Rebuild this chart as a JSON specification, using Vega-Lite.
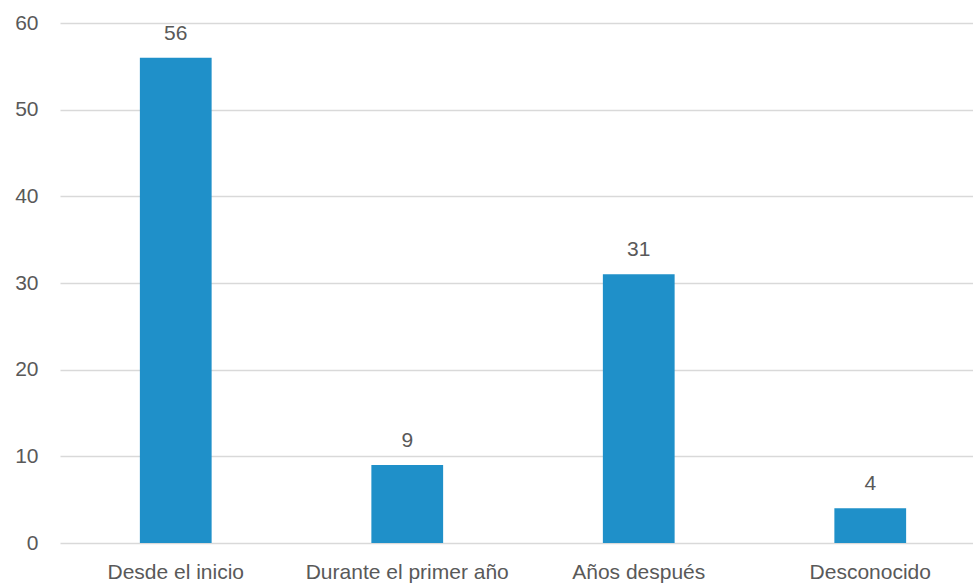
{
  "$schema": "https://vega.github.io/schema/vega-lite/v6.json",
  "autosize": "none",
  "width": 926,
  "height": 520,
  "padding": {"left": 60, "top": 23, "right": 0, "bottom": 41},
  "background": "white",
  "config": {"view": {"stroke": null}, "font": "Liberation Sans"},
  "data": {"values": [
    {"cat": "Desde el inicio", "value": 56},
    {"cat": "Durante el primer año", "value": 9},
    {"cat": "Años después", "value": 31},
    {"cat": "Desconocido", "value": 4}
  ]},
  "encoding": {
    "x": {"field": "cat", "type": "nominal", "sort": null,
      "scale": {"paddingInner": 0.69, "paddingOuter": 0.345},
      "axis": {"title": null, "labelAngle": 0, "domain": false, "ticks": false, "labelLimit": 400,
        "labelFontSize": 21, "labelColor": "#595959", "labelPadding": 18, "labelBaseline": "top"}},
    "y": {"field": "value", "type": "quantitative",
      "scale": {"domain": [0, 60], "nice": false},
      "axis": {"title": null, "values": [0,10,20,30,40,50,60], "domain": false, "ticks": false,
        "labelFontSize": 21, "labelColor": "#595959", "labelPadding": 22, "labelOverlap": false, "labelBound": false, "labelFlush": false,
        "gridColor": "#d9d9d9", "gridWidth": 1.5}}
  },
  "layer": [
    {"mark": {"type": "bar", "color": "#1f90c9"}},
    {"mark": {"type": "text", "baseline": "bottom", "dy": -14, "fontSize": 21, "color": "#595959"},
     "encoding": {"text": {"field": "value", "type": "quantitative"}}}
  ]
}
